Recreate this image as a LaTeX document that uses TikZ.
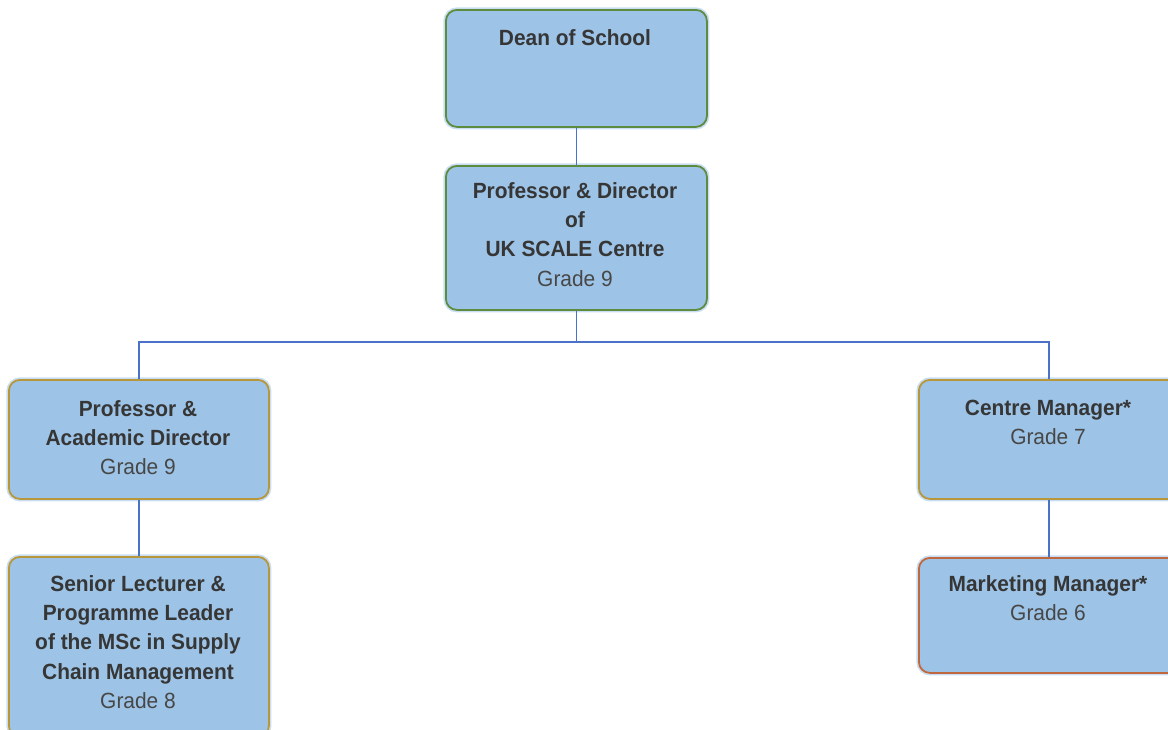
\documentclass[tikz,border=0pt]{standalone}
\usepackage{fontspec}
\setmainfont[FakeStretch=0.95]{Liberation Sans}
\definecolor{boxfill}{HTML}{9DC3E6}
\definecolor{glow}{HTML}{C9DEF2}
\definecolor{greenb}{HTML}{5E8C3E}
\definecolor{goldb}{HTML}{B8963A}
\definecolor{redb}{HTML}{C0673D}
\definecolor{connc}{HTML}{4A72C8}
\definecolor{titlec}{HTML}{363636}
\definecolor{gradec}{HTML}{474747}
\tikzset{
  orgbox/.style={draw=#1, line width=1.8pt, fill=boxfill, rounded corners=11pt,
    anchor=north west, inner sep=0pt,
    preaction={draw=glow, line width=5pt}},
  txt/.style={anchor=north, inner sep=0pt, align=center, text=titlec,
    font=\fontsize{22}{29.3}\selectfont\bfseries},
  conn/.style={draw=connc, line width=1.5pt}
}
\newcommand{\grd}[1]{{\mdseries\color{gradec}#1}}
\begin{document}
\begin{tikzpicture}[x=1pt,y=-1pt]
\useasboundingbox (0,0) rectangle (1168,729);
\clip (0,0) rectangle (1168,729);
% boxes
\node[orgbox=greenb, minimum width=261pt, minimum height=117pt] (dean) at (445,9) {};
\node[orgbox=greenb, minimum width=261pt, minimum height=144pt] (prof) at (445,165) {};
\node[orgbox=goldb, minimum width=260pt, minimum height=119pt] (l1) at (8,379) {};
\node[orgbox=goldb, minimum width=260pt, minimum height=180pt] (l2) at (8,556) {};
\node[orgbox=goldb, minimum width=260pt, minimum height=119pt] (r1) at (918,379) {};
\node[orgbox=redb, minimum width=260pt, minimum height=115pt] (r2) at (918,557) {};
% texts
\node[txt] (tdean) at (575,29) {Dean of School};
\node[txt] (tprof) at (575,182) {Professor \& Director\\of\\UK SCALE Centre\\\grd{Grade 9}};
\node[txt] (tl1) at (138,400) {Professor \&\\Academic Director\\\grd{Grade 9}};
\node[txt] (tl2) at (138,575) {Senior Lecturer \&\\Programme Leader\\of the MSc in Supply\\Chain Management\\\grd{Grade 8}};
\node[txt] (tr1) at (1048,400) {Centre Manager*\\\grd{Grade 7}};
\node[txt] (tr2) at (1048,575) {Marketing Manager*\\\grd{Grade 6}};
% connectors
\coordinate (bus) at (prof.south |- 0,342);
\draw[conn] (dean.south) -- (prof.north);
\draw[conn] (prof.south) -- (bus);
\draw[conn] (l1.north) |- (bus) -| (r1.north);
\draw[conn] (l1.south) -- (l2.north);
\draw[conn] (r1.south) -- (r2.north);
\end{tikzpicture}
\end{document}
